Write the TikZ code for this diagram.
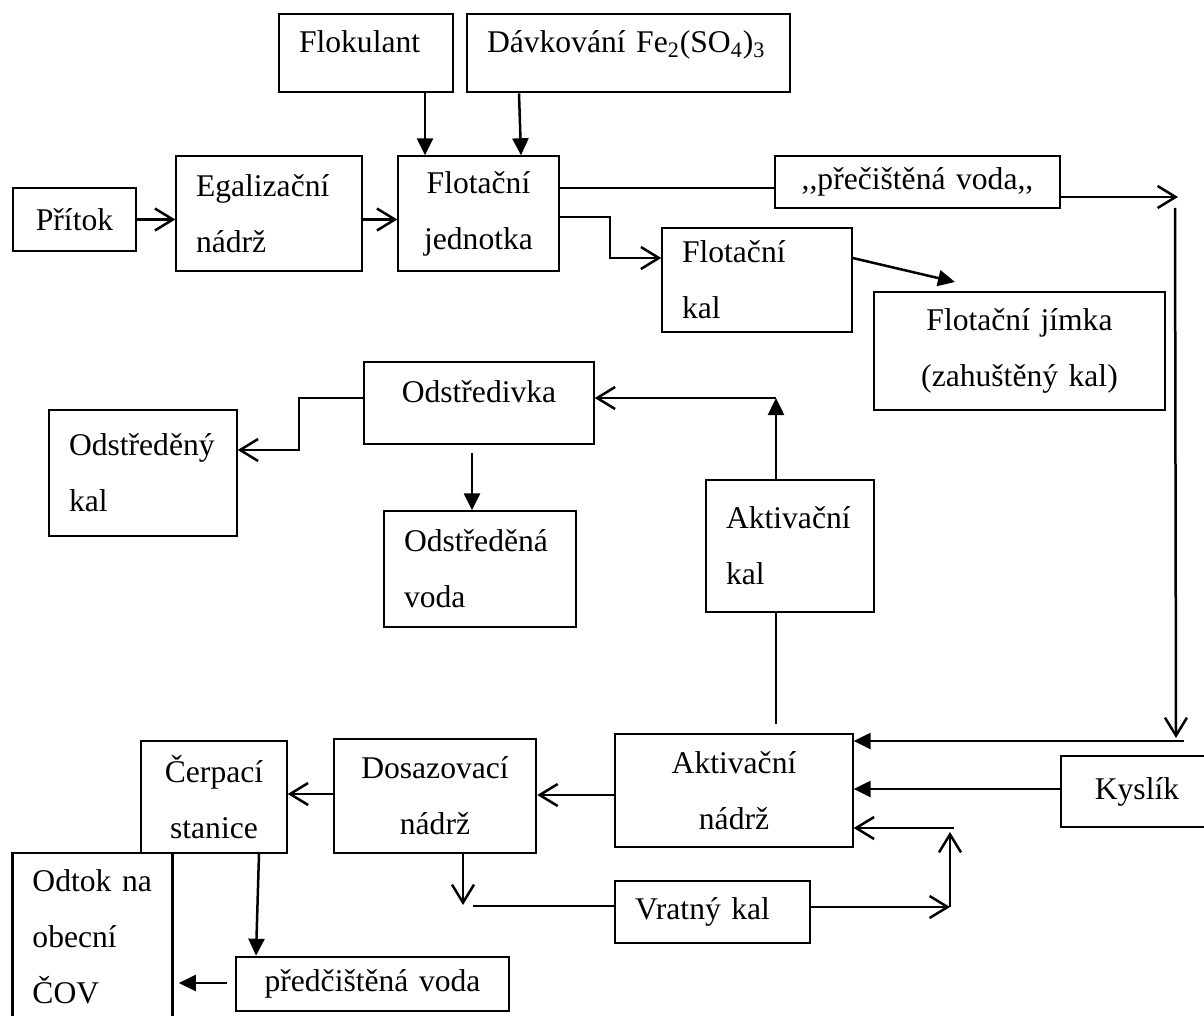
\documentclass[tikz,border=0pt]{standalone}
\usepackage{fontspec}
\setmainfont{Liberation Serif}
\usetikzlibrary{arrows.meta}
\tikzset{
  box/.style={rectangle, draw=black, line width=0.7pt, inner xsep=10pt, inner ysep=0pt,
    font=\fontsize{15.8}{28}\selectfont},
  boxl/.style={box, align=left},
  boxc/.style={box, align=center},
  heavy/.style={line width=1.3pt},
  toptext/.style={text depth=11pt},
  arrow/.style={-{Triangle[length=8.5pt,width=8pt]}, line width=1.25pt},
  openarrow/.style={-{Straight Barb[length=9pt,width=11pt]}, line width=1.25pt},
  pipe/.style={line width=1.25pt},
}
\begin{document}
\begin{tikzpicture}[x=0.5pt, y=-0.5pt]
\useasboundingbox (0,0) rectangle (1204,1016);

% top row
\node[boxl, heavy, toptext, text width=67pt, minimum height=39pt] (flok) at (366,53) {Flokulant};
\node[boxl, heavy, toptext, text width=141.5pt, minimum height=39pt] (davk) at (628.5,53) {Dávkování Fe\textsubscript{2}(SO\textsubscript{4})\textsubscript{3}};
\node[boxc, text width=41.5pt, minimum height=31.5pt] (prit) at (74.5,219.5) {Přítok};
\node[boxl, text width=73pt, minimum height=57.5pt] (egal) at (269,213.5) {Egalizační\\nádrž};
\node[boxc, text width=60.5pt, minimum height=57.5pt] (flot) at (478.5,213.5) {Flotační\\jednotka};
\node[boxc, text width=122.5pt, minimum height=26pt] (prec) at (917.5,182) {,\kern0pt,přečištěná voda,\kern0pt,};
\node[boxl, text width=75pt, minimum height=52pt] (flkal) at (757,280) {Flotační\\kal};
\node[boxc, text width=125.5pt, minimum height=59pt] (jimka) at (1019.5,351) {Flotační jímka\\(zahuštěný kal)};

% middle
\node[boxc, toptext, text width=95pt, minimum height=41pt] (odst) at (479,403) {Odstředivka};
\node[boxl, text width=74pt, minimum height=63pt] (odkal) at (143,473) {Odstředěný\\kal};
\node[boxl, text width=76pt, minimum height=58pt] (odvoda) at (480,569) {Odstředěná\\voda};
\node[boxl, heavy, text width=64pt, minimum height=66pt] (akkal) at (790,546) {Aktivační\\kal};

% bottom row
\node[boxc, text width=53pt, minimum height=56pt] (cerp) at (214,797) {Čerpací\\stanice};
\node[boxl, heavy, text width=60pt, minimum height=84pt] (odtok) at (92.5,937) {Odtok na\\obecní\\ČOV};
\node[boxc, heavy, text width=81pt, minimum height=57pt] (dosaz) at (435,796) {Dosazovací\\nádrž};
\node[boxc, heavy, text width=116.5pt, minimum height=27pt] (pred) at (372.5,984) {předčištěná voda};
\node[boxc, text width=99pt, minimum height=56.5pt] (aknadr) at (734,790.5) {Aktivační\\nádrž};
\node[boxc, text width=56pt, minimum height=35.5pt] (kysl) at (1137,791.5) {Kyslík};
\node[boxl, heavy, text width=77.5pt, minimum height=31pt] (vratny) at (712.5,912) {Vratný kal};

% free ends
\coordinate (tr) at (1178,197);
\coordinate (rtop) at (1175,208);
\coordinate (rbot) at (1176,738);
\coordinate (rin) at (1184,741);
\coordinate (fk) at (610,258);
\coordinate (jm) at (955,282);
\coordinate (ak) at (776,398);
\coordinate (akb) at (776,724);
\coordinate (ok) at (299,450);
\coordinate (dv) at (463,905);
\coordinate (vl) at (473,906);
\coordinate (vr) at (950,907);
\coordinate (vu) at (950,832);
\coordinate (vn) at (954,828);

\draw[openarrow] (prit.east) -- (prit.east -| egal.west);
\draw[openarrow] (egal.east |- prit.east) -- (flot.west |- prit.east);
\draw[arrow] (flok.south -| 425,0) -- (flot.north -| 425,0);
\draw[arrow] (davk.south -| 519,0) -- (flot.north -| 521,0);
\draw[pipe] (flot.east |- 0,188) -- (prec.west |- 0,188);
\draw[openarrow] (prec.east |- tr) -- (tr);
\draw[openarrow] (rtop) -- (rbot);
\draw[arrow] (rin) -- (rin -| aknadr.east);
\draw[openarrow] (flot.east |- 0,217) -| (fk) -- (flkal.west |- fk);
\draw[arrow] (flkal.east |- fk) -- (jm);
\draw[arrow] (akkal.north -| ak) -- (ak);
\draw[openarrow] (ak) -- (odst.east |- ak);
\draw[pipe] (akkal.south -| ak) -- (akb);
\draw[openarrow] (odst.west |- ak) -| (ok) -- (odkal.east |- ok);
\draw[arrow, shorten <=4pt] (odst.south -| 472,0) -- (odvoda.north -| 472,0);
\draw[openarrow] (aknadr.west |- 0,795) -- (dosaz.east |- 0,795);
\draw[openarrow] (dosaz.west |- 0,794) -- (cerp.east |- 0,794);
\draw[openarrow] (dosaz.south -| dv) -- (dv);
\draw[pipe] (vl) -- (vratny.west |- vl);
\draw[openarrow] (vratny.east |- vr) -- (vr);
\draw[openarrow] (vr) -- (vu);
\draw[openarrow] (vn) -- (vn -| aknadr.east);
\draw[arrow] (kysl.west |- 0,789) -- (aknadr.east |- 0,789);
\draw[arrow] (cerp.south -| 259,0) -- (pred.north -| 256,0);
\draw[arrow, shorten <=4pt, shorten >=2.5pt] (pred.west |- 0,983) -- (odtok.east |- 0,983);
\end{tikzpicture}
\end{document}
